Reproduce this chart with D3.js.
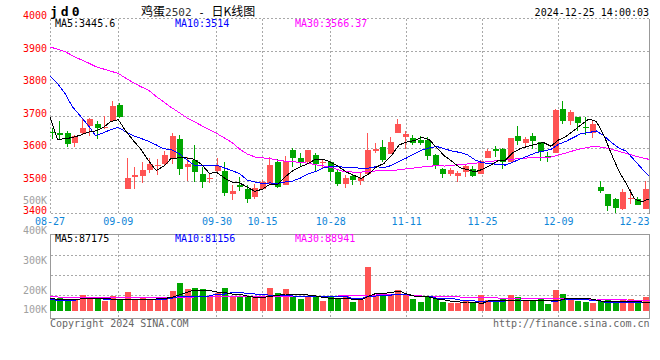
<!DOCTYPE html>
<html><head><meta charset="utf-8">
<script src="https://cdn.jsdelivr.net/npm/d3@7"></script>
<style>
html,body{margin:0;padding:0;background:#fff;}
svg{display:block;}
text{font-family:"DejaVu Sans Mono",monospace;font-size:10px;}
</style></head><body>
<svg id="c" width="660" height="360"></svg>
<script>
// ---------- DATA ----------
const dates = ["08-27","08-28","08-29","08-30",
"09-02","09-03","09-04","09-05","09-06","09-09","09-10","09-11","09-12","09-13","09-18","09-19","09-20","09-23","09-24","09-25","09-26","09-27","09-30",
"10-08","10-09","10-10","10-11","10-14","10-15","10-16","10-17","10-18","10-21","10-22","10-23","10-24","10-25","10-28","10-29","10-30","10-31",
"11-01","11-04","11-05","11-06","11-07","11-08","11-11","11-12","11-13","11-14","11-15","11-18","11-19","11-20","11-21","11-22","11-25","11-26","11-27","11-28","11-29",
"12-02","12-03","12-04","12-05","12-06","12-09","12-10","12-11","12-12","12-13","12-16","12-17","12-18","12-19","12-20","12-23","12-24","12-25"];
const open  = [3650,3649,3648,3616,3647,3669,3675,3664,3686,3735,3476,3512,3515,3535,3546,3551,3568,3629,3543,3566,3523,3505,3531,3532,3460,3487,3475,3451,3474,3492,3558,3489,3595,3572,3559,3579,3554,3558,3529,3492,3516,3500,3523,3593,3605,3583,3649,3636,3631,3626,3626,3580,3537,3521,3515,3529,3536,3523,3570,3600,3598,3559,3639,3618,3638,3619,3577,3585,3722,3686,3698,3665,3649,3482,3459,3446,3415,3444,3446,3415];
const high  = [3663,3686,3653,3642,3691,3694,3686,3701,3746,3739,3572,3543,3560,3570,3568,3592,3649,3643,3573,3611,3544,3521,3571,3559,3489,3511,3487,3492,3503,3573,3568,3577,3603,3587,3595,3585,3566,3562,3534,3518,3521,3528,3649,3616,3626,3634,3691,3655,3641,3638,3634,3583,3539,3539,3530,3552,3546,3566,3600,3608,3603,3631,3669,3636,3649,3621,3590,3721,3746,3717,3698,3698,3688,3501,3459,3449,3474,3474,3451,3501];
const low   = [3628,3625,3604,3606,3643,3640,3629,3660,3681,3694,3476,3476,3494,3524,3517,3550,3553,3520,3500,3497,3480,3494,3529,3453,3441,3470,3433,3445,3472,3490,3480,3487,3542,3542,3552,3531,3538,3501,3486,3480,3487,3487,3523,3585,3557,3583,3647,3597,3611,3611,3564,3538,3510,3515,3498,3513,3511,3521,3570,3575,3536,3559,3611,3606,3600,3562,3559,3585,3674,3672,3655,3641,3631,3462,3408,3402,3412,3428,3426,3415];
const close = [3648,3641,3614,3638,3664,3692,3662,3666,3730,3696,3509,3517,3533,3553,3548,3579,3637,3538,3551,3528,3497,3508,3546,3464,3470,3483,3444,3480,3496,3548,3482,3561,3572,3556,3595,3552,3559,3529,3492,3508,3503,3510,3595,3600,3564,3619,3675,3644,3618,3618,3578,3546,3523,3534,3524,3546,3515,3562,3592,3593,3559,3631,3623,3628,3624,3590,3570,3717,3686,3711,3680,3663,3674,3470,3423,3417,3467,3448,3426,3474];
const ma5  = [3697,3628,3630,3634,3641,3650,3654,3664,3683,3689,3653,3624,3597,3562,3532,3546,3570,3571,3571,3567,3550,3524,3526,3509,3497,3494,3481,3468,3475,3490,3490,3513,3532,3544,3553,3567,3567,3558,3545,3528,3518,3508,3522,3543,3554,3578,3611,3620,3624,3635,3627,3601,3577,3560,3541,3535,3528,3536,3548,3562,3564,3587,3600,3607,3613,3619,3607,3626,3637,3655,3673,3691,3683,3640,3582,3529,3490,3445,3436,3445.6];
const ma10 = [3822,3800,3768,3727,3700,3672,3640,3648,3658,3665,3651,3639,3631,3622,3611,3599,3597,3584,3566,3549,3548,3547,3549,3540,3532,3522,3503,3497,3492,3494,3492,3497,3500,3509,3522,3529,3540,3545,3545,3541,3543,3538,3540,3544,3541,3548,3560,3571,3584,3595,3602,3606,3599,3592,3588,3581,3565,3556,3554,3551,3549,3558,3568,3577,3587,3592,3597,3613,3622,3634,3646,3649,3654,3639,3618,3601,3591,3564,3538,3514];
const ma30 = [3912,3906,3898,3885,3874,3864,3852,3845,3838,3831,3816,3802,3790,3779,3760,3743,3726,3711,3695,3683,3670,3658,3646,3632,3618,3598,3583,3574,3571,3569.3,3563.8,3561.1,3559.7,3557,3554.7,3550,3546.6,3542,3534.1,3527.8,3527.6,3527.4,3529.5,3531,3531.6,3532.9,3534.2,3537.7,3539.9,3542.9,3545.6,3546.9,3546.1,3548.5,3550.3,3552.4,3554.7,3557.5,3560.7,3562.2,3564.7,3567.1,3568.8,3571.2,3572.1,3573.4,3573.8,3580,3586.5,3593.3,3599.2,3604.3,3606.9,3602.6,3597.9,3591.1,3584.2,3577.7,3571.3,3566.37];
const volume = [80000,83000,72000,80000,100000,83000,87000,72000,95000,78000,115000,78000,88000,80000,80000,80000,120000,160000,130000,135000,130000,88000,108000,135000,88000,88000,93000,93000,88000,135000,110000,130000,93000,80000,97000,92000,72000,90000,83000,98000,65000,75000,240000,97000,95000,100000,125000,100000,80000,65000,88000,78000,67000,62000,62000,75000,62000,98000,75000,67000,78000,98000,88000,72000,73000,80000,55000,125000,105000,78000,70000,67000,60000,72000,78000,72000,78000,78000,67000,90000];
const vma5  = [83000,78000,78000,78000,80000,82000,82000,82000,80000,78000,75000,80000,80000,80000,80000,82000,88000,100000,113000,125000,125000,122000,115000,112000,105000,103000,95000,88000,87000,93000,98000,105000,103000,103000,100000,95000,88000,83000,83000,83000,78000,75000,95000,108000,108000,113000,120000,105000,95000,92000,90000,80000,75000,68000,65000,65000,62000,58000,75000,75000,75000,75000,75000,72000,72000,70000,72000,72000,82000,82000,82000,82000,75000,67000,67000,67000,67000,67000,65000,65000];
const vma10 = [80000,72000,72000,72000,80000,83000,83000,80000,80000,80000,80000,80000,80000,78000,78000,78000,83000,92000,92000,92000,95000,95000,105000,105000,112000,112000,108000,105000,105000,98000,98000,98000,95000,95000,95000,95000,95000,92000,92000,92000,82000,82000,95000,95000,100000,100000,102000,102000,95000,95000,95000,83000,83000,83000,75000,75000,70000,70000,70000,70000,70000,72000,72000,72000,72000,72000,70000,70000,80000,80000,80000,75000,75000,65000,65000,65000,65000,65000,65000,65000];
const vma30 = [93000,90000,88000,88000,88000,88000,87000,87000,87000,87000,87000,87000,87000,87000,87000,87000,88000,88000,90000,90000,92000,92000,92000,93000,93000,93000,93000,93000,95000,95000,95000,95000,95000,95000,95000,95000,95000,93000,95000,97000,97000,98000,100000,100000,102000,102000,102000,100000,98000,95000,95000,93000,92000,92000,90000,88000,88000,87000,87000,85000,85000,85000,85000,83000,83000,83000,83000,83000,82000,82000,80000,80000,80000,78000,78000,78000,75000,73000,72000,72000];
const priceTicks = [3400,3500,3600,3700,3800,3900,4000];
const volTicks = [100000,200000,300000,400000,500000];
const volTickLabels = ["100K","200K","300K","400K","500K"];
const dateTicks = ["08-27","09-09","09-30","10-15","10-28","11-11","11-25","12-09","12-23"];
const symbol = "jd0";
const titleParts = ["鸡蛋", "2502", " - ", "日K线图"];
const stamp = "2024-12-25 14:00:03";
const legendMain = ["MA5:3445.6","MA10:3514","MA30:3566.37"];
const legendVol = ["MA5:87175","MA10:81156","MA30:88941"];
const maColors = ["#000000","#0000ff","#ff00ff"];
const footLeft = "Copyright 2024 SINA.COM";
const footRight = "http://finance.sina.com.cn";

// ---------- LAYOUT ----------
const UP = "#ff5454", DOWN = "#00a600", GRID = "#a8a8a8";
const svg = d3.select("#c");
const n = dates.length;
const idx = d3.range(n);
const xC = d3.scaleLinear().domain([0, n-1]).range([52.7, 646]);   // candle / bar centres
const xL = d3.scaleLinear().domain([0, n-1]).range([50, 649.5]);   // lines & grid
const yP = d3.scaleLinear().domain([3400, 4000]).range([213.5, 18.5]);
const yV = d3.scaleLinear().domain([0, 400000]).range([315, 235]);
const yVLabel = d3.scaleLinear().domain([200000, 500000]).range([294, 204]);
const px = v => Math.floor(v) + 0.5;

const main = {l: 50.5, r: 649.5, t: 18.5, b: 213.5};
const vol = {l: 50.5, r: 649.5, t: 234.5, b: 318.5, base: 311};

// ---------- GRID ----------
const g = svg.append("g").attr("shape-rendering","crispEdges");
g.selectAll(".hp").data(priceTicks.slice(1,-1)).join("line")
  .attr("x1", main.l).attr("x2", main.r)
  .attr("y1", d => px(yP(d))).attr("y2", d => px(yP(d)))
  .attr("stroke", GRID).attr("stroke-dasharray","2,2");
const tickIdx = dateTicks.map(t => dates.indexOf(t));
const vIdx = tickIdx.slice(1, -1);
g.selectAll(".vp").data(vIdx).join("line")
  .attr("x1", d => px(xL(d))).attr("x2", d => px(xL(d)))
  .attr("y1", main.t).attr("y2", main.b)
  .attr("stroke", GRID).attr("stroke-dasharray","2,2");
[[main.l,main.t,main.r,main.t],[main.l,main.t,main.l,main.b],[main.l,main.b,main.r,main.b]].forEach(s=>{
  g.append("line").attr("x1",s[0]).attr("y1",s[1]).attr("x2",s[2]).attr("y2",s[3])
   .attr("stroke",GRID).attr("stroke-dasharray","2,2");
});
g.append("line").attr("x1",main.r).attr("x2",main.r).attr("y1",main.t).attr("y2",main.b).attr("stroke","#999");

g.selectAll(".hv").data([100000,200000,300000]).join("line")
  .attr("x1", vol.l).attr("x2", vol.r)
  .attr("y1", d => px(yV(d))).attr("y2", d => px(yV(d)))
  .attr("stroke", GRID).attr("stroke-dasharray","2,2");
g.selectAll(".vv").data(vIdx).join("line")
  .attr("x1", d => px(xL(d))).attr("x2", d => px(xL(d)))
  .attr("y1", vol.t).attr("y2", vol.b)
  .attr("stroke", GRID).attr("stroke-dasharray","2,2");
g.append("rect").attr("x",vol.l).attr("y",vol.t).attr("width",vol.r-vol.l).attr("height",vol.b-vol.t)
  .attr("fill","none").attr("stroke","#999");

// ---------- CANDLES ----------
const cg = svg.append("g").attr("shape-rendering","crispEdges");
const col = i => close[i] >= open[i] ? UP : DOWN;
const bw = 6;
cg.selectAll(".wick").data(idx).join("line")
  .attr("x1", i => Math.round(xC(i) - bw/2) + 2.5)
  .attr("x2", i => Math.round(xC(i) - bw/2) + 2.5)
  .attr("y1", i => yP(high[i])).attr("y2", i => yP(low[i]))
  .attr("stroke", col);
cg.selectAll(".body").data(idx).join("rect")
  .attr("x", i => Math.round(xC(i) - bw/2))
  .attr("width", bw)
  .attr("y", i => Math.round(yP(Math.max(open[i], close[i]))))
  .attr("height", i => Math.max(1, Math.round(yP(Math.min(open[i], close[i]))) - Math.round(yP(Math.max(open[i], close[i])))))
  .attr("fill", col);

// ---------- MA LINES ----------
const lg = svg.append("g").attr("fill","none").attr("stroke-width",1).attr("shape-rendering","crispEdges");
const lineP = d3.line().x((d,i) => xL(i)).y(d => yP(d));
[ma30, ma10, ma5].forEach((arr, k) => {
  lg.append("path").datum(arr).attr("d", lineP).attr("stroke", maColors[2-k]);
});

// ---------- VOLUME ----------
const vg = svg.append("g").attr("shape-rendering","crispEdges");
vg.selectAll(".vb").data(idx).join("rect")
  .attr("x", i => Math.round(xC(i) - bw/2))
  .attr("width", bw)
  .attr("y", i => Math.round(yV(volume[i])))
  .attr("height", i => vol.base - Math.round(yV(volume[i])))
  .attr("fill", col);
const lineV = d3.line().x((d,i) => xL(i)).y(d => yV(d));
[vma30, vma10, vma5].forEach((arr, k) => {
  vg.append("path").datum(arr).attr("d", lineV).attr("fill","none").attr("stroke", maColors[2-k]);
});

// ---------- TEXT ----------
const t = svg.append("g");
t.append("text").attr("x", 50).attr("y", 15.5).text(symbol)
  .style("font-size","13px").style("font-weight","bold").style("letter-spacing","3px");
const tt = t.append("text").attr("x", 141).attr("y", 15.5).attr("xml:space","preserve")
  .style("font-size","12px");
tt.append("tspan").style("font-family","'Noto Sans CJK SC',sans-serif").text(titleParts[0]);
tt.append("tspan").style("font-family","'DejaVu Sans Mono',monospace").style("font-size","11px").attr("fill","#333").text(titleParts[1]);
tt.append("tspan").style("font-family","'DejaVu Sans Mono',monospace").style("font-size","11px").text(titleParts[2]);
tt.append("tspan").style("font-family","'Noto Sans CJK SC',sans-serif").text(titleParts[3]);
t.append("text").attr("x", 649).attr("y", 15.5).attr("text-anchor","end").text(stamp);

t.selectAll(".pl").data(priceTicks).join("text")
  .attr("x", 47).attr("y", d => yP(d) + 0.5).attr("text-anchor","end")
  .attr("fill","#ff0000").text(d => d);
t.selectAll(".vl").data(volTicks).join("text")
  .attr("x", 47).attr("y", d => Math.min(yVLabel(d), 313)).attr("text-anchor","end")
  .attr("fill","#a0a0a0").text((d,i) => volTickLabels[i]);
t.selectAll(".dl").data(tickIdx).join("text")
  .attr("x", (d,i) => i === tickIdx.length-1 ? 649.5 : xL(d))
  .attr("y", 225)
  .attr("text-anchor", (d,i) => i === tickIdx.length-1 ? "end" : "middle")
  .attr("fill","#0f86d8").text((d,i) => dateTicks[i]);
const legX = [55, 175, 295];
t.selectAll(".lm").data(legendMain).join("text")
  .attr("x",(d,i)=>legX[i]).attr("y",26.5).attr("fill",(d,i)=>maColors[i]).text(d=>d);
t.selectAll(".lv").data(legendVol).join("text")
  .attr("x",(d,i)=>legX[i]).attr("y",241.5).attr("fill",(d,i)=>maColors[i]).text(d=>d);
t.append("text").attr("x",50).attr("y",327).attr("fill","#666").text(footLeft);
t.append("text").attr("x",649.5).attr("y",327).attr("text-anchor","end").attr("fill","#666").text(footRight);
</script>
</body></html>
